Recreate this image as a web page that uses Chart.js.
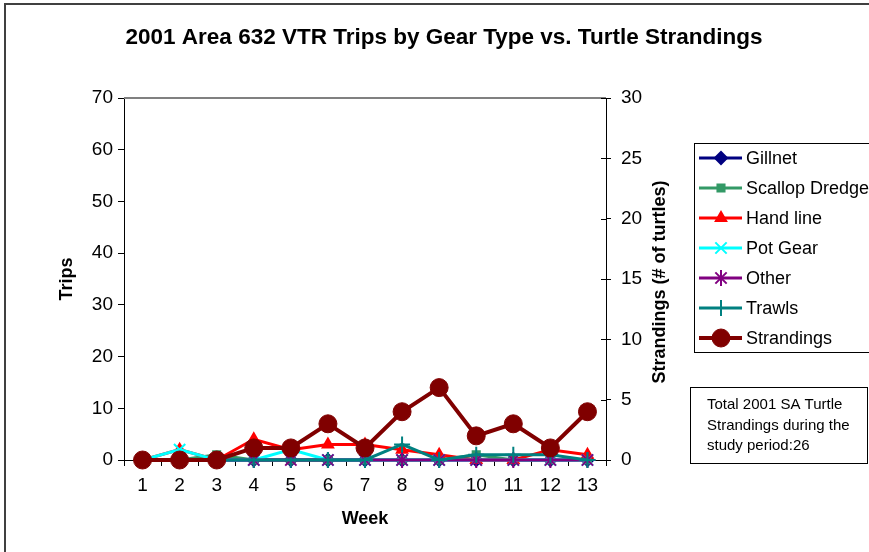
<!DOCTYPE html>
<html>
<head>
<meta charset="utf-8">
<script src="https://cdn.jsdelivr.net/npm/chart.js@4.4.1/dist/chart.umd.min.js"></script>
<style>
  html, body { margin: 0; padding: 0; background: #fff; }
  #wrap { width: 869px; height: 552px; position: relative; }
</style>
</head>
<body>
<div id="wrap"><canvas id="c" width="869" height="552"></canvas></div>
<script>
// Weekly VTR trips per gear type (left axis) and turtle strandings (right axis)
const weeks = ['1', '2', '3', '4', '5', '6', '7', '8', '9', '10', '11', '12', '13'];
const gillnet       = [0, 0, 0, 0, 0, 0, 0, 0, 0, 0, 0, 0, 0];
const scallopDredge = [0, 0, 1, 0, 0, 0, 0, 0, 0, 1, 0, 0, 0];
const handLine      = [0, 2, 0, 4, 2, 3, 3, 2, 1, 0, 0, 2, 1];
const potGear       = [0, 2, 0, 0, 2, 0, 0, 0, 0, 0, 0, 0, 0];
const other         = [0, 0, 0, 0, 0, 0, 0, 0, 0, 0, 0, 0, 0];
const trawls        = [0, 0, 0, 0, 0, 0, 0, 3, 0, 1, 1, 1, 0];
const strandings    = [0, 0, 0, 1, 1, 3, 1, 4, 6, 2, 3, 1, 4];

const tripsRange = { min: 0, max: 70, step: 10 };
const strandRange = { min: 0, max: 30, step: 5 };

const chartTitle = '2001 Area 632 VTR Trips by Gear Type vs. Turtle Strandings';
const noteLines = ['Total 2001 SA Turtle', 'Strandings during the', 'study period:26'];

const FONT = '"Liberation Sans", Arial, sans-serif';

function gearSet(label, data, color, style, radius, order) {
  return {
    label, data, yAxisID: 'y', order,
    borderColor: color, backgroundColor: color,
    pointBackgroundColor: color, pointBorderColor: color,
    pointStyle: style, pointRadius: radius, pointHoverRadius: radius,
    pointBorderWidth: 2, borderWidth: 3, tension: 0, clip: false
  };
}

const datasets = [
  gearSet('Gillnet', gillnet, '#000080', 'rectRot', 6, 7),
  gearSet('Scallop Dredge', scallopDredge, '#339966', 'rect', 5, 6),
  gearSet('Hand line', handLine, '#FF0000', 'triangle', 6, 5),
  gearSet('Pot Gear', potGear, '#00FFFF', 'crossRot', 8, 4),
  gearSet('Other', other, '#800080', 'star', 8, 3),
  gearSet('Trawls', trawls, '#008080', 'cross', 8, 2),
  {
    label: 'Strandings', data: strandings, yAxisID: 'y2', order: 1,
    borderColor: '#800000', backgroundColor: '#800000',
    pointBackgroundColor: '#800000', pointBorderColor: '#800000',
    pointStyle: 'circle', pointRadius: 9, pointHoverRadius: 9,
    pointBorderWidth: 1, borderWidth: 4, tension: 0, clip: false
  }
];

function marker(ctx, ds, x, y) {
  ctx.save();
  ctx.fillStyle = ds.pointBackgroundColor;
  ctx.strokeStyle = ds.pointBorderColor;
  ctx.lineWidth = ds.pointBorderWidth;
  Chart.helpers.drawPoint(ctx, {
    pointStyle: ds.pointStyle, rotation: 0,
    radius: ds.pointRadius, borderWidth: ds.pointBorderWidth
  }, x, y);
  ctx.restore();
}

const decorations = {
  id: 'decorations',
  beforeDatasetsDraw(chart) {
    const { ctx, chartArea: a } = chart;
    // grey frame line along the top of the plot area
    ctx.save();
    ctx.strokeStyle = '#808080';
    ctx.lineWidth = 2;
    ctx.beginPath();
    ctx.moveTo(a.left, a.top);
    ctx.lineTo(a.right, a.top);
    ctx.stroke();
    // inner half of the right-axis tick marks
    const y2 = chart.scales.y2;
    ctx.strokeStyle = '#000';
    ctx.lineWidth = 1;
    y2.ticks.forEach(t => {
      const py = Math.round(y2.getPixelForValue(t.value)) + 0.5;
      ctx.beginPath();
      ctx.moveTo(a.right - 5, py);
      ctx.lineTo(a.right, py);
      ctx.stroke();
    });
    ctx.restore();
  },
  afterDraw(chart) {
    const { ctx } = chart;
    ctx.save();
    // outer frame
    ctx.strokeStyle = '#404040';
    ctx.lineWidth = 2;
    ctx.strokeRect(5, 4, 900, 600);

    // chart title
    ctx.fillStyle = '#000';
    ctx.font = 'bold 22.5px ' + FONT;
    ctx.textAlign = 'center';
    ctx.textBaseline = 'middle';
    ctx.fillText(chartTitle, 444, 38);

    // right axis title, reading bottom to top
    ctx.save();
    ctx.translate(660, 282);
    ctx.rotate(-Math.PI / 2);
    ctx.font = 'bold 18px ' + FONT;
    ctx.fillText('Strandings (# of turtles)', 0, 0);
    ctx.restore();

    // legend
    ctx.strokeStyle = '#000';
    ctx.lineWidth = 1;
    ctx.strokeRect(694.5, 143.5, 200, 209);
    ctx.font = '18px ' + FONT;
    ctx.textAlign = 'left';
    ctx.textBaseline = 'middle';
    chart.data.datasets.forEach((ds, i) => {
      const y = 158 + i * 30;
      ctx.strokeStyle = ds.borderColor;
      ctx.lineWidth = ds.borderWidth;
      ctx.beginPath();
      ctx.moveTo(699, y);
      ctx.lineTo(742, y);
      ctx.stroke();
      marker(ctx, ds, 721, y);
      ctx.fillStyle = '#000';
      ctx.fillText(ds.label, 746, y + 1);
    });

    // note box
    ctx.strokeStyle = '#000';
    ctx.lineWidth = 1;
    ctx.strokeRect(690.5, 387.5, 177, 76);
    ctx.font = '15px ' + FONT;
    ctx.fillStyle = '#000';
    noteLines.forEach((t, i) => ctx.fillText(t, 707, 405 + i * 20.5));
    ctx.restore();
  }
};

new Chart(document.getElementById('c'), {
  type: 'line',
  data: { labels: weeks, datasets },
  options: {
    responsive: false,
    animation: false,
    devicePixelRatio: 1,
    layout: { padding: { top: 98, left: 0, right: 0, bottom: 0 } },
    plugins: { legend: { display: false }, tooltip: { enabled: false } },
    scales: {
      x: {
        type: 'category',
        offset: true,
        grid: { offset: true, drawOnChartArea: false, drawTicks: true, tickLength: 6, color: '#000' },
        border: { display: true, color: '#000', width: 1 },
        ticks: { color: '#000', font: { family: FONT, size: 19 }, padding: 8, maxRotation: 0 },
        title: { display: true, text: 'Week', color: '#000',
                 font: { family: FONT, size: 18, weight: 'bold' }, padding: { top: 0, bottom: 22 } },
        afterFit(s) { s.height = 92; }
      },
      y: {
        position: 'left',
        min: tripsRange.min, max: tripsRange.max,
        grid: { drawOnChartArea: false, drawTicks: true, tickLength: 6, color: '#000' },
        border: { display: true, color: '#000', width: 1 },
        ticks: { stepSize: tripsRange.step, color: '#000', font: { family: FONT, size: 19 }, padding: 5 },
        title: { display: true, text: 'Trips', color: '#000',
                 font: { family: FONT, size: 18, weight: 'bold' }, padding: { top: 56, bottom: 0 } },
        afterFit(s) { s.width = 124; }
      },
      y2: {
        position: 'right',
        min: strandRange.min, max: strandRange.max,
        grid: { drawOnChartArea: false, drawTicks: true, tickLength: 5, color: '#000' },
        border: { display: true, color: '#000', width: 1 },
        ticks: { stepSize: strandRange.step, color: '#000', font: { family: FONT, size: 19 }, padding: 10 },
        afterFit(s) { s.width = 263; }
      }
    }
  },
  plugins: [decorations]
});
</script>
</body>
</html>
